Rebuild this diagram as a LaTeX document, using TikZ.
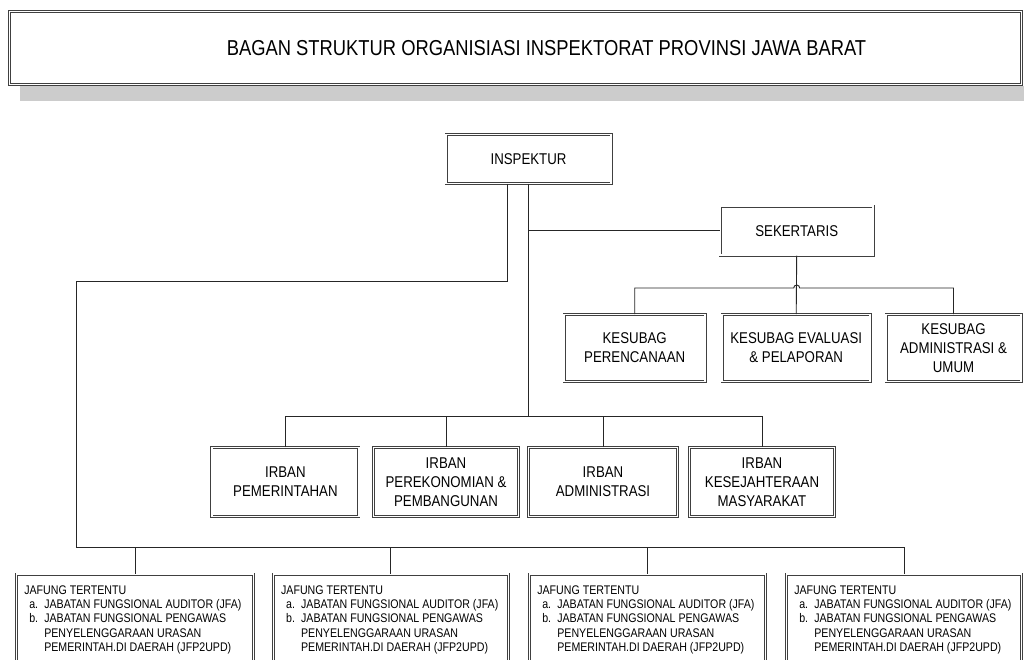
\documentclass[tikz,border=0pt]{standalone}
\usepackage{fontspec}
\setmainfont{Liberation Sans}[FakeStretch=0.85]
\usetikzlibrary{calc}
\tikzset{
  dbox/.style={draw=black!75, double=white, double distance=1.5pt, line width=0.75pt,
    fill=white, align=center, inner sep=0pt, font=\fontsize{15.6}{19}\selectfont},
  conn/.style={draw=black!85, line width=0.9pt},
  jtext/.style={anchor=north west, align=left, inner sep=0pt,
    font=\fontsize{12.5}{14.2}\selectfont},
}
\newcommand{\jafungtext}{JAFUNG TERTENTU\\
\hspace*{5pt}\makebox[15pt][l]{a.}JABATAN FUNGSIONAL AUDITOR (JFA)\\
\hspace*{5pt}\makebox[15pt][l]{b.}JABATAN FUNGSIONAL PENGAWAS\\
\hspace*{20pt}PENYELENGGARAAN URASAN\\
\hspace*{20pt}PEMERINTAH.DI DAERAH (JFP2UPD)}
\begin{document}
\begin{tikzpicture}[x=1pt,y=-1pt]
\useasboundingbox[fill=white] (0,0) rectangle (1024,659);
\clip (0,0) rectangle (1024,659);
% title with shadow
\fill[black!20] (20,86) rectangle (1024,101);
\node[dbox, minimum width=1012pt, minimum height=73pt, line width=1pt, double distance=1.6pt,
  font=\fontsize{21.6}{24}\selectfont] (title) at (515.5,48)
  {\hspace*{62pt}BAGAN STRUKTUR ORGANISIASI INSPEKTORAT PROVINSI JAWA BARAT};
% top level
\node[dbox, minimum width=165pt, minimum height=49pt] (insp) at (528.5,159) {INSPEKTUR};
\node[dbox, minimum width=153pt, minimum height=49pt] (sek) at (796.7,230.7) {SEKERTARIS};
% kesubag
\node[dbox, minimum width=141pt, minimum height=67pt] (ks1) at (634.7,348) {KESUBAG\\PERENCANAAN};
\node[dbox, minimum width=148pt, minimum height=67pt] (ks2) at (796.2,348) {KESUBAG EVALUASI\\\& PELAPORAN};
\node[dbox, minimum width=135pt, minimum height=67pt] (ks3) at (953.5,348) {KESUBAG\\ADMINISTRASI \&\\UMUM};
% irban
\node[dbox, minimum width=147pt, minimum height=69pt] (ir1) at (285.4,482) {IRBAN\\PEMERINTAHAN};
\node[dbox, minimum width=145pt, minimum height=69pt] (ir2) at (446,482) {IRBAN\\PEREKONOMIAN \&\\PEMBANGUNAN};
\node[dbox, minimum width=149pt, minimum height=69pt] (ir3) at (603,482) {IRBAN\\ADMINISTRASI};
\node[dbox, minimum width=145pt, minimum height=69pt] (ir4) at (762,482) {IRBAN\\KESEJAHTERAAN\\MASYARAKAT};
% jafung boxes
\node[dbox, minimum width=237pt, minimum height=105pt] (j1) at (135,626.5) {};
\node[dbox, minimum width=235pt, minimum height=105pt] (j2) at (390.8,626.5) {};
\node[dbox, minimum width=236pt, minimum height=105pt] (j3) at (647.5,626.5) {};
\node[dbox, minimum width=235pt, minimum height=105pt] (j4) at (904,626.5) {};
\node[jtext] (j1t) at ($(j1.north west)+(8,12)$) {\jafungtext};
\node[jtext] (j2t) at ($(j2.north west)+(8,12)$) {\jafungtext};
\node[jtext] (j3t) at ($(j3.north west)+(8,12)$) {\jafungtext};
\node[jtext] (j4t) at ($(j4.north west)+(8,12)$) {\jafungtext};
% bus levels
\coordinate (bk) at (0,288);
\coordinate (bi) at (0,416);
\coordinate (bj) at (0,547);
\coordinate (lf) at (76,281.5);
% connectors
\draw[conn] ([xshift=-21.5pt]insp.south) -- ([xshift=-21.5pt]insp.south |- lf) -- (lf)
  -- (lf |- bj) -- (j4.north |- bj) -- (j4.north);
\draw[conn] (j1.north) -- (j1.north |- bj);
\draw[conn] (j2.north) -- (j2.north |- bj);
\draw[conn] (j3.north) -- (j3.north |- bj);
\draw[conn] (insp.south) -- (insp.south |- bi);
\draw[conn] (insp.south |- sek.west) -- (sek.west);
\draw[conn] (ir1.north) -- (ir1.north |- bi) -- (ir4.north |- bi) -- (ir4.north);
\draw[conn] (ir2.north) -- (ir2.north |- bi);
\draw[conn] (ir3.north) -- (ir3.north |- bi);
\draw[conn] (ks1.north) -- (ks1.north |- bk) -- ($(sek.south |- bk)+(-3,0)$)
  arc[start angle=180, end angle=0, radius=3pt] -- (ks3.north |- bk) -- (ks3.north);
\draw[conn] (sek.south) -- (ks2.north);
\end{tikzpicture}
\end{document}
